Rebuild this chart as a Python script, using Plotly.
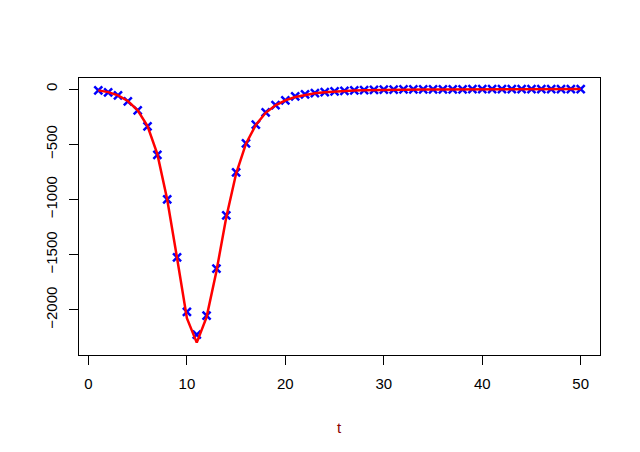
import plotly.graph_objects as go

t = list(range(1, 51))

observed = [-13, -31, -58, -112, -193, -338, -595, -999, -1524, -2018,
            -2224, -2051, -1626, -1144, -755, -492, -323, -212, -146, -103,
            -67, -49, -36, -27, -21, -16, -12, -10, -8, -6,
            -5, -4, -4, -3, -3, -2, -2, -2, -1, -1,
            -1, -1, -1, -1, -1, 0, 0, 0, 0, 0]

fitted = [-12, -28, -57, -108, -192, -335, -590, -1000, -1530, -2075,
          -2296, -2065, -1650, -1160, -765, -495, -325, -215, -147, -102,
          -72, -52, -38, -29, -22, -17, -13, -10, -8, -7,
          -6, -5, -4, -3.5, -3, -2.5, -2, -2, -1.5, -1.5,
          -1, -1, -1, -1, -1, -0.5, -0.5, -0.5, -0.5, -0.5]

x_ticks = [0, 10, 20, 30, 40, 50]
y_ticks = [0, -500, -1000, -1500, -2000]

fig = go.Figure()

# points first, the fitted line goes on top (like points() then lines() in R)
fig.add_trace(go.Scatter(
    x=t, y=observed, mode='markers',
    marker=dict(symbol='x-thin', size=8, color='blue',
                line=dict(color='blue', width=2.5)),
    showlegend=False,
))
fig.add_trace(go.Scatter(
    x=t, y=fitted, mode='lines',
    line=dict(color='red', width=2.5),
    showlegend=False,
))

axis_style = dict(
    showgrid=False, zeroline=False,
    showline=True, linecolor='black', linewidth=1, mirror=True,
    ticks='outside', ticklen=9, tickwidth=1, tickcolor='black',
    ticklabelstandoff=6,
    tickfont=dict(family='Liberation Sans, Arial', size=15, color='black'),
)

# page body has an 8px margin, so the figure is a bit smaller than the window
fig.update_layout(
    width=632, height=444,
    margin=dict(l=71, r=40, t=70, b=97),
    plot_bgcolor='white', paper_bgcolor='white',
    xaxis=dict(range=[-0.96, 51.96], tickvals=x_ticks, **axis_style),
    yaxis=dict(range=[-2408, 100], tickvals=y_ticks, tickangle=-90, **axis_style),
    annotations=[dict(
        text='t', xref='paper', yref='paper', x=0.5, y=0,
        yshift=-72, yanchor='middle', showarrow=False,
        font=dict(family='Liberation Sans, Arial', size=15, color='#8B0000'),
    )],
)

fig.write_html("out.html")
